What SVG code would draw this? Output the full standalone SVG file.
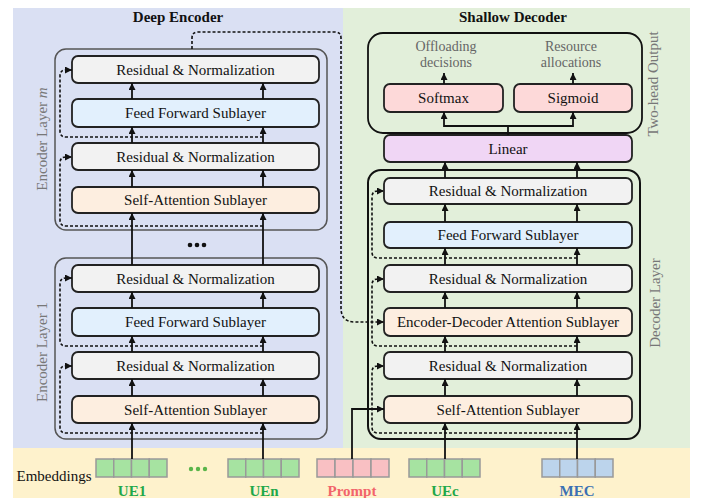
<svg xmlns="http://www.w3.org/2000/svg" width="707" height="498" viewBox="0 0 707 498">
<defs>
<marker id="ah" viewBox="0 0 10 10" refX="10" refY="5" markerWidth="7" markerHeight="7" markerUnits="userSpaceOnUse" orient="auto"><path d="M0,0 L10,5 L0,10 z" fill="#111"/></marker>
<style>
.t{font-family:"Liberation Serif","Times New Roman",serif;font-size:15px;fill:#111;text-anchor:middle}
.b{font-weight:bold}
.g{fill:#666;font-size:14px}
.rot{font-family:"Liberation Serif","Times New Roman",serif;font-size:15px;fill:#777;text-anchor:middle}
.box{stroke:#222;stroke-width:1.8}
.rn{fill:#f2f2f2}
.ff{fill:#e2f0fd}
.sa{fill:#fdeee0}
.lin{fill:#f0d6f5}
.hd{fill:#fdd9d9}
.ol{fill:none;stroke:#555;stroke-width:1.5}
.od{fill:none;stroke:#111;stroke-width:2}
.s{fill:none;stroke:#111;stroke-width:1.8}
.a{fill:none;stroke:#111;stroke-width:1.8;marker-end:url(#ah)}
.d{fill:none;stroke:#111;stroke-width:1.6;stroke-dasharray:3,2;marker-end:url(#ah)}
.cg{fill:#a6e3a1;stroke:#999;stroke-width:1.5}
.cp{fill:#f9c0c3;stroke:#999;stroke-width:1.5}
.cb{fill:#bcd4ec;stroke:#999;stroke-width:1.5}
</style>
</defs>
<!-- backgrounds -->
<rect x="13" y="8" width="330" height="440" fill="#dae0f3"/>
<rect x="343" y="8" width="347" height="440" fill="#e2efda"/>
<rect x="13" y="448" width="677" height="50" fill="#fef2cc"/>
<text class="t b" x="178" y="22">Deep Encoder</text>
<text class="t b" x="513" y="22">Shallow Decoder</text>

<!-- Encoder layer m -->
<g id="encoder-layer-m">
<rect class="ol" x="55" y="49" width="272" height="181" rx="11"/>
<text class="rot" transform="translate(47,139) rotate(-90)">Encoder  Layer <tspan font-style="italic">m</tspan></text>
<g id="enc-m-rn2"><rect class="box rn" x="72" y="56" width="247" height="27" rx="6"/><text class="t" x="195.5" y="74.5">Residual &amp; Normalization</text></g>
<g id="enc-m-ff"><rect class="box ff" x="72" y="99" width="247" height="28" rx="6"/><text class="t" x="195.5" y="118">Feed Forward Sublayer</text></g>
<g id="enc-m-rn1"><rect class="box rn" x="72" y="143" width="247" height="27" rx="6"/><text class="t" x="195.5" y="161.5">Residual &amp; Normalization</text></g>
<g id="enc-m-sa"><rect class="box sa" x="72" y="187" width="247" height="26" rx="6"/><text class="t" x="195.5" y="205">Self-Attention Sublayer</text></g>
</g>

<g id="ellipsis-enc">
<circle cx="190" cy="245" r="2.3" fill="#111"/><circle cx="197" cy="245" r="2.3" fill="#111"/><circle cx="204" cy="245" r="2.3" fill="#111"/>
</g>

<!-- Encoder layer 1 -->
<g id="encoder-layer-1">
<rect class="ol" x="55" y="258" width="272" height="181" rx="11"/>
<text class="rot" transform="translate(47,352) rotate(-90)">Encoder Layer 1</text>
<g id="enc-1-rn2"><rect class="box rn" x="72" y="265" width="247" height="27" rx="6"/><text class="t" x="195.5" y="283.5">Residual &amp; Normalization</text></g>
<g id="enc-1-ff"><rect class="box ff" x="72" y="308" width="247" height="28" rx="6"/><text class="t" x="195.5" y="327">Feed Forward Sublayer</text></g>
<g id="enc-1-rn1"><rect class="box rn" x="72" y="352" width="247" height="27" rx="6"/><text class="t" x="195.5" y="370.5">Residual &amp; Normalization</text></g>
<g id="enc-1-sa"><rect class="box sa" x="72" y="396" width="247" height="27" rx="6"/><text class="t" x="195.5" y="414.5">Self-Attention Sublayer</text></g>
</g>

<!-- Two-head output -->
<g id="two-head-output">
<rect x="368" y="33" width="274" height="100" rx="15" fill="none" stroke="#111" stroke-width="1.8"/>
<text class="rot" transform="translate(658,84) rotate(-90)">Two-head Output</text>
<text class="t g" x="446" y="50.5">Offloading</text>
<text class="t g" x="446" y="66.5">decisions</text>
<text class="t g" x="571" y="50.5">Resource</text>
<text class="t g" x="571" y="66.5">allocations</text>
<g id="softmax"><rect class="box hd" x="384" y="84" width="119" height="28" rx="6"/><text class="t" x="443.5" y="103">Softmax</text></g>
<g id="sigmoid"><rect class="box hd" x="514" y="84" width="118" height="28" rx="6"/><text class="t" x="573" y="103">Sigmoid</text></g>
</g>

<g id="linear"><rect class="box lin" x="384" y="135" width="248" height="27" rx="6"/><text class="t" x="508" y="153.5">Linear</text></g>

<!-- Decoder layer -->
<g id="decoder-layer">
<rect class="od" x="368" y="170" width="272" height="269" rx="13"/>
<text class="rot" transform="translate(660,303) rotate(-90)">Decoder  Layer</text>
<g id="dec-rn3"><rect class="box rn" x="384" y="178" width="248" height="26" rx="6"/><text class="t" x="508" y="196">Residual &amp; Normalization</text></g>
<g id="dec-ff"><rect class="box ff" x="384" y="222" width="248" height="26" rx="6"/><text class="t" x="508" y="240">Feed Forward Sublayer</text></g>
<g id="dec-rn2"><rect class="box rn" x="384" y="265" width="248" height="27" rx="6"/><text class="t" x="508" y="283.5">Residual &amp; Normalization</text></g>
<g id="dec-eda"><rect class="box sa" x="384" y="308" width="248" height="28" rx="6"/><text class="t" x="508" y="327">Encoder-Decoder Attention Sublayer</text></g>
<g id="dec-rn1"><rect class="box rn" x="384" y="352" width="248" height="27" rx="6"/><text class="t" x="508" y="370.5">Residual &amp; Normalization</text></g>
<g id="dec-sa"><rect class="box sa" x="384" y="396" width="248" height="27" rx="6"/><text class="t" x="508" y="414.5">Self-Attention Sublayer</text></g>
</g>

<!-- Embeddings -->
<g id="embeddings">
<text class="t" x="54" y="481">Embeddings</text>
<g id="emb-ue1">
<rect class="cg" x="96" y="459" width="17.75" height="18"/><rect class="cg" x="113.75" y="459" width="17.75" height="18"/><rect class="cg" x="131.5" y="459" width="17.75" height="18"/><rect class="cg" x="149.25" y="459" width="17.75" height="18"/>
<text class="t b" x="132" y="496" style="fill:#1fa84a">UE1</text>
</g>
<g id="emb-dots"><circle cx="191" cy="469" r="2.2" fill="#5ab54a"/><circle cx="198" cy="469" r="2.2" fill="#5ab54a"/><circle cx="205" cy="469" r="2.2" fill="#5ab54a"/></g>
<g id="emb-uen">
<rect class="cg" x="228" y="459" width="17.75" height="18"/><rect class="cg" x="245.75" y="459" width="17.75" height="18"/><rect class="cg" x="263.5" y="459" width="17.75" height="18"/><rect class="cg" x="281.25" y="459" width="17.75" height="18"/>
<text class="t b" x="264" y="496" style="fill:#1fa84a">UEn</text>
</g>
<g id="emb-prompt">
<rect class="cp" x="317" y="459" width="18" height="18"/><rect class="cp" x="335" y="459" width="18" height="18"/><rect class="cp" x="353" y="459" width="18" height="18"/><rect class="cp" x="371" y="459" width="18" height="18"/>
<text class="t b" x="352" y="496" style="fill:#f2646a">Prompt</text>
</g>
<g id="emb-uec">
<rect class="cg" x="409" y="459" width="17.75" height="18"/><rect class="cg" x="426.75" y="459" width="17.75" height="18"/><rect class="cg" x="444.5" y="459" width="17.75" height="18"/><rect class="cg" x="462.25" y="459" width="17.75" height="18"/>
<text class="t b" x="445" y="496" style="fill:#1fa84a">UEc</text>
</g>
<g id="emb-mec">
<rect class="cb" x="542" y="459" width="17.75" height="18"/><rect class="cb" x="559.75" y="459" width="17.75" height="18"/><rect class="cb" x="577.5" y="459" width="17.75" height="18"/><rect class="cb" x="595.25" y="459" width="17.75" height="18"/>
<text class="t b" x="577" y="496" style="fill:#3b70b3">MEC</text>
</g>
</g>

<!-- Connectors -->
<g id="connectors">
<path class="a" d="M132,459 V423"/>
<path class="a" d="M263,459 V423"/>
<path class="a" d="M132,396 V379"/><path class="a" d="M263,396 V379"/>
<path class="a" d="M132,352 V336"/><path class="a" d="M263,352 V336"/>
<path class="a" d="M132,308 V292"/><path class="a" d="M263,308 V292"/>
<path class="a" d="M132,265 V213"/><path class="a" d="M263,265 V213"/>
<path class="a" d="M132,187 V170"/><path class="a" d="M263,187 V170"/>
<path class="a" d="M132,143 V127"/><path class="a" d="M263,143 V127"/>
<path class="a" d="M132,99 V83"/><path class="a" d="M263,99 V83"/>
<path class="d" d="M263,137 H66 Q60,137 60,131 V76 Q60,70 66,70 H72"/>
<path class="d" d="M263,226 H66 Q60,226 60,220 V163 Q60,157 66,157 H72"/>
<path class="d" d="M263,346 H66 Q60,346 60,340 V284 Q60,278 66,278 H72"/>
<path class="d" d="M263,433 H66 Q60,433 60,427 V372 Q60,366 66,366 H72"/>
<path class="d" d="M192,49 V38 Q192,32 198,32 H335 Q341,32 341,38 V308 Q341,322 355,322 H384"/>
<path class="a" d="M445,459 V423"/>
<path class="a" d="M577,459 V423"/>
<path class="a" d="M352,459 V409 H384"/>
<path class="a" d="M445,396 V379"/><path class="a" d="M577,396 V379"/>
<path class="a" d="M445,352 V336"/><path class="a" d="M577,352 V336"/>
<path class="a" d="M445,308 V292"/><path class="a" d="M577,308 V292"/>
<path class="a" d="M445,265 V248"/><path class="a" d="M577,265 V248"/>
<path class="a" d="M445,222 V204"/><path class="a" d="M577,222 V204"/>
<path class="a" d="M445,178 V162"/><path class="a" d="M577,178 V162"/>
<path class="d" d="M577,258 H378 Q372,258 372,252 V197 Q372,191 378,191 H384"/>
<path class="d" d="M577,346 H378 Q372,346 372,340 V285 Q372,279 378,279 H384"/>
<path class="d" d="M577,433 H378 Q372,433 372,427 V372 Q372,366 378,366 H384"/>
<path class="s" d="M508,135 V126"/>
<path class="a" d="M508,126 H444 V112"/>
<path class="a" d="M508,126 H573 V112"/>
<path class="a" d="M444,84 V73"/>
<path class="a" d="M573,84 V73"/>
</g>
</svg>
